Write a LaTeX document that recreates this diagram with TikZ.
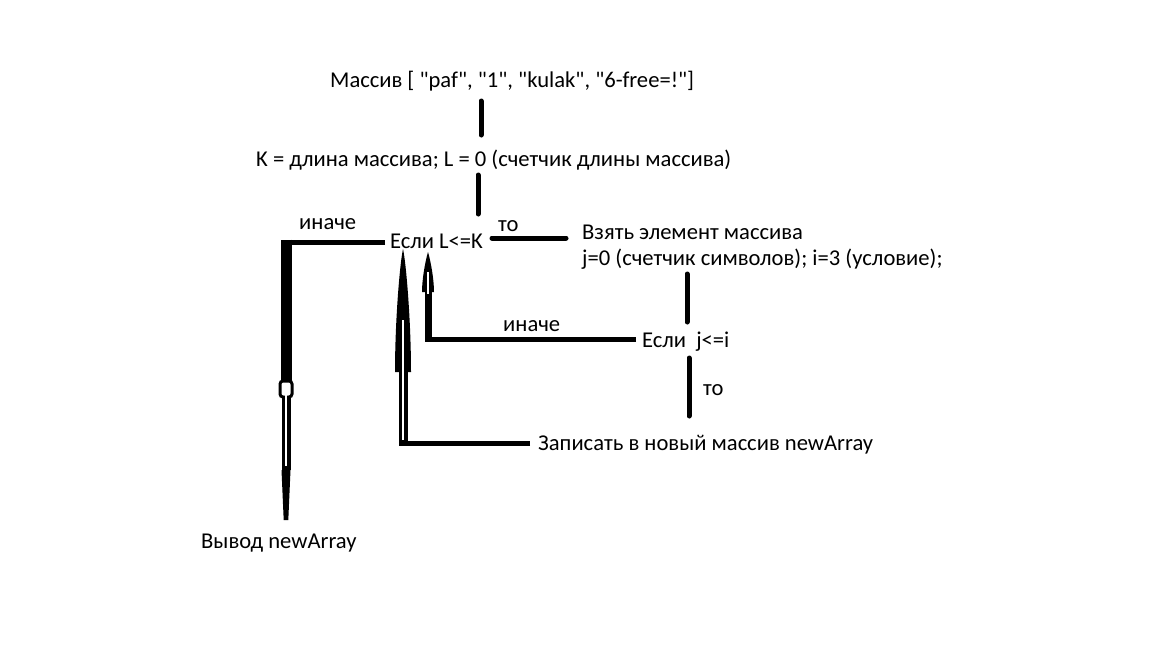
\documentclass[tikz,border=0pt]{standalone}
\usepackage{fontspec}
\newfontfamily\calfont{Carlito}
\usetikzlibrary{arrows.meta,calc}
\begin{document}
\begin{tikzpicture}[x=1pt,y=-1pt,
  lbl/.style={font=\calfont\fontsize{22.6}{27}\selectfont, inner sep=0pt, anchor=base west},
  conn/.style={line width=5pt, line cap=round},
  shaft/.style={line width=7pt, line join=round},
  whiteline/.style={white, line width=1.6pt}]
\useasboundingbox (0,0) rectangle (1152,648);
\fill[white] (0,0) rectangle (1152,648);

% text nodes
\node[lbl] (n1) at (330,87) {Массив [ "paf", "1", "kulak", "6-free=!"]};
\node[lbl] (n2) at (256,166) {K = длина массива; L = 0 (счетчик длины массива)};
\node[lbl] (ifL) at (390,248) {Если L<=K};
\node[lbl] (to1) at (498,231) {то};
\node[lbl] (else1) at (299,229) {иначе};
\node[lbl] (take1) at (582,239) {Взять элемент массива};
\node[lbl] (take2) at (582,265) {j=0 (счетчик символов); i=3 (условие);};
\node[lbl] (else2) at (503,331) {иначе};
\node[lbl] (ifj) at (642,347) {Если\ \ j<=i};
\node[lbl] (to2) at (703,395) {то};
\node[lbl] (write) at (538,450) {Записать в новый массив newArray};
\node[lbl] (out) at (201,548) {Вывод newArray};

% connector end points
\coordinate (a1) at (481,101);
\coordinate (a2) at (481,135);
\coordinate (b1) at (478,175);
\coordinate (b2) at (478,214);
\coordinate (c1) at (492,238);
\coordinate (c2) at (566,238);
\coordinate (d1) at (687,274);
\coordinate (d2) at (687,322);
\coordinate (e1) at (636,339);
\coordinate (e2) at (428,339);
\coordinate (e3) at (428,252);
\coordinate (f1) at (689,358);
\coordinate (f2) at (689,416);
\coordinate (g1) at (530,443);
\coordinate (g2) at (403,443);
\coordinate (g3) at (403,249);
\coordinate (h1) at (385,242);
\coordinate (h2) at (286,242);
\coordinate (h3) at (286,382);
\coordinate (h4) at (286,520);

% straight connectors
\draw[conn] (a1) -- (a2);
\draw[conn] (b1) -- (b2);
\draw[conn] (c1) -- (c2);
\draw[conn] (d1) -- (d2);
\draw[conn] (f1) -- (f2);

% иначе (inner loop) back to Если L<=K
\draw[line width=5pt] (e1) -- (e2);
\draw[shaft] ($(e2)+(0,2.5)$) -- ($(e3)+(0,40)$);
\fill (e3) .. controls (431,262) and (434,280) .. (434,292)
      -- (422,292) .. controls (422,280) and (425,262) .. (e3) -- cycle;
\draw[whiteline] (428,272) -- (428,294);

% запись back to Если L<=K
\draw[line width=5pt] (g1) -- (g2);
\draw[line width=9pt] ($(g2)+(0,2.5)$) -- (403,360);
\fill (g3) .. controls (406,262) and (411,320) .. (411,372)
      -- (395,372) .. controls (395,320) and (400,262) .. (g3) -- cycle;
\draw[white, line width=2pt] (403,320) -- (403,440);

% иначе to Вывод
\draw[line width=5pt] (h1) -- (h2);
\draw[line width=11pt] ($(h2)+(0,-2.5)$) -- (h3);
\draw[line width=9pt] (286,380) -- (286,470);
\draw[fill=white, draw=black, line width=3pt, rounded corners=3pt] (280,381) rectangle (292,397);
\draw[white, line width=2pt] (286,395) -- (286,466);
\fill (281.5,470) -- (290.5,470) -- (288.3,520) -- (283.7,520) -- cycle;
\end{tikzpicture}
\end{document}
